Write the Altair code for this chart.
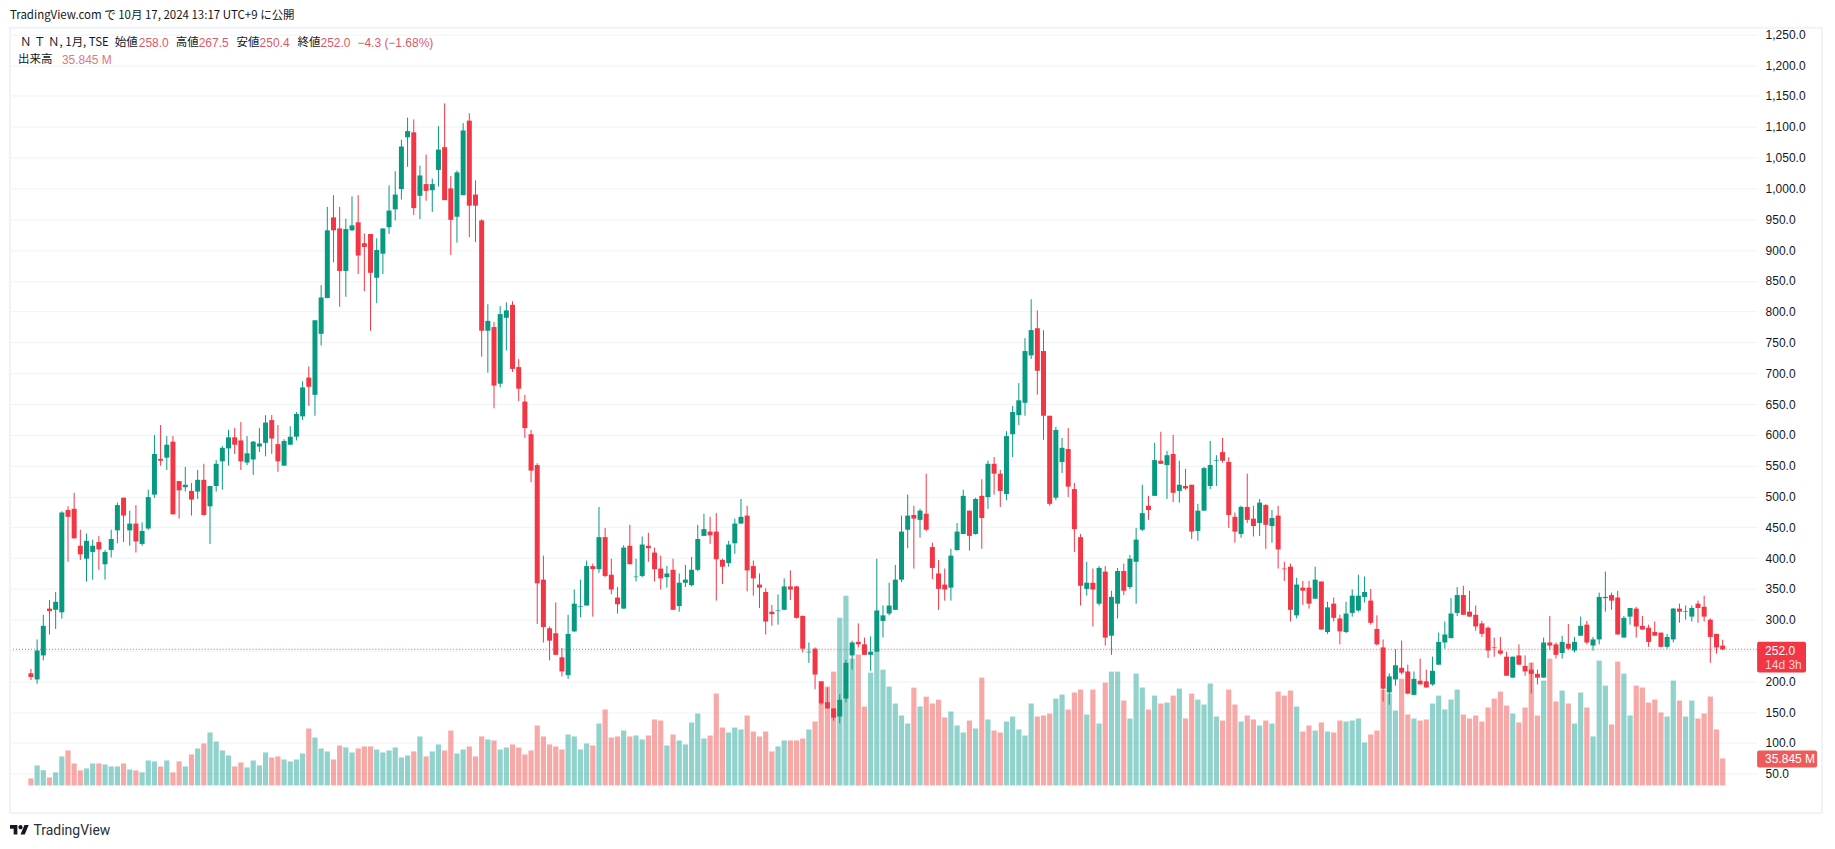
import altair as alt
import pandas as pd

opens = [213,203,242,318,316,312,478,480,420,399,
 410,426,390,413,445,498,445,456,423,448,
 503,561,563,589,525,515,509,508,527,484,
 517,557,578,596,591,555,560,581,587,624,
 585,550,584,597,630,693,665,764,822,953,
 935,866,932,945,911,926,855,894,937,966,
 999,1083,1091,988,1007,997,1030,1067,1000,954,
 989,1110,990,948,769,775,683,790,811,710,
 654,601,551,365,286,278,239,210,281,321,
 323,387,382,434,373,336,318,420,369,371,
 420,409,383,369,381,322,360,356,381,436,
 443,443,397,392,424,456,469,387,357,345,
 313,314,316,354,354,306,247,253,200,166,
 156,143,172,242,264,260,243,248,298,310,
 316,365,446,470,462,472,418,375,357,352,
 413,439,477,439,501,499,553,537,504,601,
 632,652,729,773,736,631,498,556,577,512,
 434,350,360,326,378,274,326,379,353,394,
 446,485,501,558,551,569,509,517,519,444,
 477,517,558,572,556,467,439,483,464,457,
 486,452,469,383,386,307,352,352,334,362,
 280,326,302,280,311,315,337,331,285,255,
 182,203,222,216,178,201,200,195,227,263,
 270,311,340,313,308,294,287,255,250,240,
 206,242,225,219,212,206,263,260,246,261,
 250,274,292,258,268,335,340,336,271,305,
 318,290,287,280,279,256,268,318,313,305,
 326,321,300,277,258.0]

highs = [220,268,308,332,345,476,484,506,446,440,
 430,436,413,446,490,498,477,486,458,511,
 600,616,598,598,525,548,522,543,553,517,
 559,582,608,611,621,598,590,611,632,632,
 616,593,614,637,687,711,786,843,970,989,
 970,951,987,989,927,926,919,935,1005,1028,
 1079,1115,1112,1037,1055,1016,1101,1138,1020,1029,
 1106,1122,1013,950,812,783,809,815,817,723,
 665,608,554,404,289,328,254,308,349,365,
 396,391,483,449,399,353,421,454,399,435,
 441,417,404,387,399,375,389,402,454,472,
 467,473,399,428,464,496,485,396,375,351,
 324,341,367,380,355,307,263,255,200,190,
 156,179,235,266,294,271,273,399,323,360,
 389,469,503,485,480,537,425,397,383,415,
 457,511,477,498,528,558,564,543,606,647,
 684,757,820,802,770,631,613,595,611,522,
 439,394,383,387,387,347,384,391,405,449,
 519,501,587,605,574,600,558,545,519,488,
 548,590,567,595,564,474,485,537,485,496,
 488,478,485,394,391,368,363,363,386,362,
 329,336,308,329,349,373,370,350,307,268,
 213,252,266,227,216,237,219,240,279,297,
 335,353,355,347,323,298,289,271,272,248,
 240,260,242,230,219,271,306,263,274,293,
 272,305,298,272,344,378,344,347,306,319,
 321,306,292,297,279,277,319,326,323,323,
 331,339,302,277,267.5]

lows = [202,196,234,276,285,302,394,432,397,362,
 365,381,365,401,424,426,420,409,420,446,
 498,550,543,471,464,508,469,496,469,423,
 508,511,550,569,543,551,535,572,565,569,
 540,550,584,591,624,647,631,745,822,880,
 808,824,931,861,833,769,814,861,926,948,
 982,1035,957,950,980,962,1003,981,892,912,
 989,921,913,727,701,643,677,737,702,655,
 595,523,293,263,234,243,208,204,280,304,
 323,305,376,369,341,310,318,390,362,369,
 394,362,349,352,316,313,353,354,379,436,
 423,331,358,386,407,456,346,339,319,276,
 290,292,316,332,302,247,230,187,162,156,
 136,132,166,219,255,243,217,248,271,307,
 316,361,416,383,433,444,366,316,331,331,
 412,439,412,438,415,480,503,483,494,564,
 616,631,723,665,592,485,494,538,499,410,
 323,339,289,323,258,243,302,340,350,326,
 444,462,501,553,496,491,490,511,431,428,
 477,512,517,555,449,425,433,457,435,436,
 415,425,383,363,297,302,324,318,334,284,
 277,297,260,278,305,313,328,292,258,167,
 162,193,211,179,177,195,190,193,227,253,
 270,306,308,305,282,272,238,240,243,209,
 206,227,209,180,195,206,251,237,237,251,
 247,274,260,250,260,313,316,276,271,292,
 271,284,256,274,255,253,263,295,300,297,
 295,297,230,245,250.4]

closes = [207,250,290,314,329,474,467,432,406,428,
 420,414,410,431,486,469,456,427,444,499,
 569,558,584,471,510,519,495,527,470,517,
 553,579,596,584,557,570,589,586,620,594,
 557,590,597,634,677,678,786,823,932,932,
 866,934,940,891,905,863,900,935,964,990,
 1068,1093,968,1021,996,1007,1063,981,949,1026,
 1094,972,972,769,785,680,796,802,707,675,
 611,542,359,288,266,243,216,277,326,322,
 387,382,434,371,349,325,417,390,370,422,
 416,382,367,375,316,360,365,381,431,447,
 437,398,386,422,456,467,380,367,352,297,
 309,315,354,349,303,253,248,211,164,156,
 141,170,230,263,260,243,248,315,307,323,
 365,443,469,464,477,446,384,350,349,404,
 443,501,436,496,465,553,537,509,598,637,
 656,736,770,704,631,488,608,579,516,447,
 355,360,349,384,271,337,379,347,399,430,
 473,478,559,553,567,506,519,513,443,477,
 546,551,559,558,470,443,483,462,452,490,
 454,465,414,382,316,357,347,326,365,284,
 320,303,281,310,339,339,345,295,260,188,
 208,226,214,180,204,195,190,217,264,276,
 310,340,308,305,289,277,250,254,245,209,
 240,227,216,212,206,263,258,243,264,253,
 264,290,263,268,337,337,331,276,303,319,
 289,284,264,274,256,272,318,313,314,319,
 319,305,272,255,252.0]

volumes = [9.3,26.6,20,10.6,17.3,38.5,46.5,29.2,20,22.6,
 29.2,29.2,27.9,25.2,25.2,29.2,21.2,20,17.3,33.2,
 31.9,25.2,33.2,17.3,31.9,25.2,41.2,49.1,55.8,70.4,
 58.4,46.5,39.8,25.2,30.5,23.9,33.2,26.6,43.8,37.2,
 38.5,34.5,31.9,34.5,42.5,75.7,63.7,49.1,45.2,34.5,
 53.1,50.5,43.8,49.1,51.8,51.8,47.8,43.8,46.5,50.5,
 37.2,39.8,45.2,65.1,38.5,45.2,54.5,46.5,73,42.5,
 47.8,51.8,38.5,65.1,61.1,59.8,47.8,50.5,54.5,50.5,
 41.2,46.5,79.7,65.1,54.5,51.8,47.8,67.7,65.1,47.8,
 55.8,53.1,82.3,100.9,63.7,65.1,73,65.1,66.4,61.1,
 66.4,87.7,86.3,53.1,67.7,59.8,54.5,83.7,95.6,62.4,
 66.4,122.2,77,70.4,77,74.4,93,71.7,65.1,71.7,
 45.2,51.8,59.8,59.8,59.8,62.4,74.4,85,108.9,131.5,
 151.4,223,252.3,168.7,174,104.9,150,178,154,131.5,
 108.9,93,82.3,130,105,118,109,114,90.3,98.3,
 79.7,70.4,86.3,75.7,143.4,87.7,73,70.4,85,91.6,
 74.4,66.4,108.9,91.6,93,95.6,115.5,120.9,100.9,123.5,
 127.5,94.3,127.5,82.3,136.8,151.4,151.4,112.9,89,148.7,
 130.2,100.9,119.5,108.9,110.2,119.5,128.8,89,122.2,114.2,
 107.6,135.5,91.6,86.3,127.5,107.6,85,93,87.7,79.7,
 86.3,82.3,124.8,119.5,126.2,104.9,71.7,79.7,73,83.7,
 71.7,70.4,86.3,85,86.3,89,57.1,67.7,73,127,
 122.2,99.6,142,94.3,89,86.3,87.7,108.9,119.5,101,
 114.2,127.5,94.3,89,93,85,103.6,115.5,124.8,106.2,
 95.6,83.7,103.6,163.4,93,139.4,168.7,111.6,126.2,108.9,
 82.3,123.5,103.6,65.1,166,132.8,81,164.7,148.7,93,
 132.8,130.2,110.2,114.2,97,91.6,139.4,112.9,91.6,112.9,
 89,95.6,118.2,74.4,35.845]

price_ticks = [50 * k for k in range(1, 26)]
year_ticks = [24 * k for k in range(0, 12)]
last_close = 252.0

UP, DOWN = "#089981", "#f23645"
VOL_UP, VOL_DOWN = "#26a69a", "#ef5350"
GRID = "#f0f2f6"
INK = "#131722"
RED_TXT = "#d9596a"

assert len(opens) == len(highs) == len(lows) == len(closes) == len(volumes) == 275

df = pd.DataFrame({
    "bar": list(range(-1, 274)),
    "open": opens, "high": highs, "low": lows, "close": closes,
    "volume": volumes,
})
df["base"] = 0
df["candle_color"] = [UP if c >= o else DOWN for o, c in zip(opens, closes)]
df["volume_color"] = [VOL_UP if c >= o else VOL_DOWN for o, c in zip(opens, closes)]

x_scale = alt.Scale(domain=[-3.585, 277.77], nice=False, zero=False)
y_scale = alt.Scale(domain=[24.57, 1260.9], nice=False, zero=False)
v_scale = alt.Scale(domain=[-5.312, 1008], nice=False, zero=False)

FONT = "Liberation Sans"
JP = "Noto Sans CJK JP"

one = pd.DataFrame({"a": [1]})

# view coordinates are page pixels minus (10, 27)
def label(text, x, y, color=INK, size=12, font=FONT, align="left", **kw):
    return alt.Chart(pd.DataFrame({"label": [text]})).mark_text(
        align=align, baseline="middle", color=color, fontSize=size, font=font, **kw
    ).encode(x=alt.value(x - 10), y=alt.value(y - 27), text="label:N")

def box(x0, x1, y0, y1, color, radius=2):
    return alt.Chart(one).mark_rect(color=color, cornerRadius=radius).encode(
        x=alt.value(x0 - 10), x2=alt.value(x1 - 10),
        y=alt.value(y0 - 27), y2=alt.value(y1 - 27))

price_line = alt.Chart(one).mark_rule(color=DOWN, strokeWidth=1, strokeDash=[1, 2], opacity=0.85).encode(
    y=alt.Y(datum=last_close, scale=y_scale, axis=alt.Axis(
        orient="right", values=price_ticks, format=",.1f", title=None,
        grid=True, gridColor=GRID, gridWidth=1, domain=False, ticks=False,
        labelPadding=8, labelFontSize=12, labelFont=FONT, labelColor=INK,
        labelOverlap=False, labelFlush=False)))

volume_bars = alt.Chart(df).mark_bar(size=5.2, opacity=0.5).encode(
    x=alt.X("bar:Q", scale=x_scale, axis=alt.Axis(
        values=year_ticks, labelExpr="toString(2002 + datum.value / 12)", title=None,
        grid=True, gridColor=GRID, gridWidth=1, domain=False, ticks=False,
        labelPadding=3, labelFontSize=12, labelFont=FONT, labelColor=INK,
        labelOverlap=False, labelFlush=False)),
    y=alt.Y("volume:Q", scale=v_scale, axis=None),
    y2="base:Q",
    color=alt.Color("volume_color:N", scale=None),
)

wicks = alt.Chart(df).mark_rule(strokeWidth=1).encode(
    x=alt.X("bar:Q", scale=x_scale, axis=None),
    y=alt.Y("high:Q", scale=y_scale, axis=None),
    y2="low:Q",
    color=alt.Color("candle_color:N", scale=None),
)

bodies = alt.Chart(df).mark_bar(size=5).encode(
    x=alt.X("bar:Q", scale=x_scale, axis=None),
    y=alt.Y("open:Q", scale=y_scale, axis=None),
    y2="close:Q",
    color=alt.Color("candle_color:N", scale=None),
)

frame = alt.Chart(one).mark_rect(fillOpacity=0, stroke="#f0f3f7", strokeWidth=2).encode(
    x=alt.value(0), x2=alt.value(1815), y=alt.value(0), y2=alt.value(787))

logo_path = ("M-0.222 0.5H-0.611V-0.111H-1V-0.5H-0.222Z"
             "M0.556 0.5H0.111L0.528 -0.5H0.972Z"
             "M0.111 -0.056A0.222 0.222 0 1 0 0.111 -0.5A0.222 0.222 0 1 0 0.111 -0.056Z")
logo = alt.Chart(one).mark_point(shape=logo_path, filled=True, color=INK, opacity=1, size=361, strokeWidth=0).encode(
    x=alt.value(19.5 - 10), y=alt.value(830.5 - 27))

texts = [
    label("TradingView.com で 10月 17, 2024 13:17 UTC+9 に公開", 10, 15, size=11.5, font=JP),
    label("Ｎ Ｔ Ｎ, 1月, TSE", 20, 42, size=11.5, font=JP),
    label("始値", 115, 42, size=11.5, font=JP),
    label("258.0", 139, 42, color=RED_TXT),
    label("高値", 176, 42, size=11.5, font=JP),
    label("267.5", 199, 42, color=RED_TXT),
    label("安値", 237, 42, size=11.5, font=JP),
    label("250.4", 260, 42, color=RED_TXT),
    label("終値", 298, 42, size=11.5, font=JP),
    label("252.0", 321, 42, color=RED_TXT),
    label("−4.3 (−1.68%)", 358, 42, color=RED_TXT),
    label("出来高", 18, 59, size=11.5, font=JP),
    label("35.845 M", 62, 59, color="#e0787c"),
    box(1760, 1809, 642, 673, DOWN),
    label("252.0", 1768, 651, color="#ffffff"),
    label("14d 3h", 1768, 665, color="#fbd0d4"),
    box(1760, 1820, 751, 768, "#ef5b5b"),
    label("35.845 M", 1768, 760, color="#ffffff"),
    label("TradingView", 33.5, 832, size=14, font="Roboto", color="#2a2e39"),
]

chart = alt.layer(price_line, volume_bars, wicks, bodies, frame, logo, *texts).resolve_scale(
    y="independent"
).properties(
    width=1750, height=763,
    autosize=alt.AutoSizeParams(type="none"),
    padding={"left": 2, "top": 19, "right": 70, "bottom": 50},
    background="#ffffff",
).configure_view(strokeWidth=0)

chart.save("out.html", embed_options={"renderer": "svg", "actions": False})
